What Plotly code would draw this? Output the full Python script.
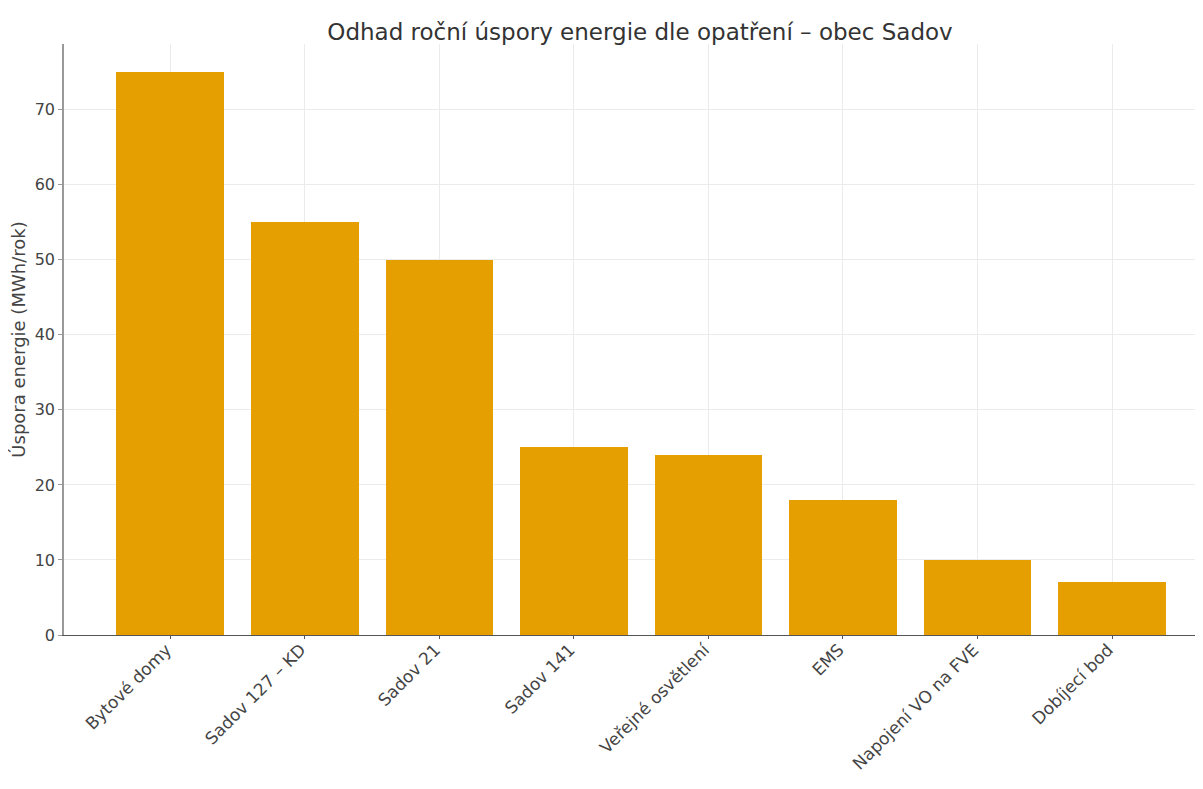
import plotly.graph_objects as go

categories = ["Bytové domy", "Sadov 127 – KD", "Sadov 21", "Sadov 141",
              "Veřejné osvětlení", "EMS", "Napojení VO na FVE", "Dobíjecí bod"]
savings = [75, 55, 50, 25, 24, 18, 10, 7]
y_ticks = [0, 10, 20, 30, 40, 50, 60, 70]

title_text = "Odhad roční úspory energie dle opatření – obec Sadov"
y_title = "Úspora energie (MWh/rok)"

font_family = "DejaVu Sans"
bar_color = "#E69F00"

W, H = 1195, 781

fig = go.Figure(go.Bar(
    x=list(range(len(categories))),
    y=savings,
    width=0.8,
    marker=dict(color=bar_color, line=dict(width=0)),
))

fig.update_layout(
    width=W, height=H,
    margin=dict(l=56, r=0, t=36, b=154, autoexpand=False),
    paper_bgcolor="white", plot_bgcolor="white",
    font=dict(family=font_family, size=16, color="#444444"),
    title=dict(text=title_text, x=0.5057, xref="paper", xanchor="center",
               y=1 - 24 / H, yref="container", yanchor="middle",
               font=dict(size=23, color="#333333")),
    showlegend=False,
    bargap=0,
)

fig.update_xaxes(
    range=[-0.79, 7.676],
    tickmode="array",
    tickvals=list(range(len(categories))),
    ticktext=categories,
    tickangle=-45,
    showgrid=True, gridcolor="#ebebeb", gridwidth=1,
    showline=True, linecolor="#555555", linewidth=1.3,
    ticks="outside", ticklen=3, tickcolor="#555555",
    tickfont=dict(size=17, color="#444444"),
    ticklabelstandoff=-6,
    ticklabelshift=-4,
    zeroline=False,
    automargin=False,
)

fig.update_yaxes(
    range=[0, 78.75],
    tickmode="array",
    tickvals=y_ticks,
    showgrid=True, gridcolor="#ebebeb", gridwidth=1,
    showline=True, linecolor="#999999", linewidth=1.5,
    ticks="outside", ticklen=4, tickcolor="#999999",
    tickfont=dict(size=16, color="#444444"),
    title=dict(text=y_title, font=dict(size=18, color="#444444"), standoff=10),
    zeroline=False,
    automargin=False,
)

fig.write_html("out.html")
